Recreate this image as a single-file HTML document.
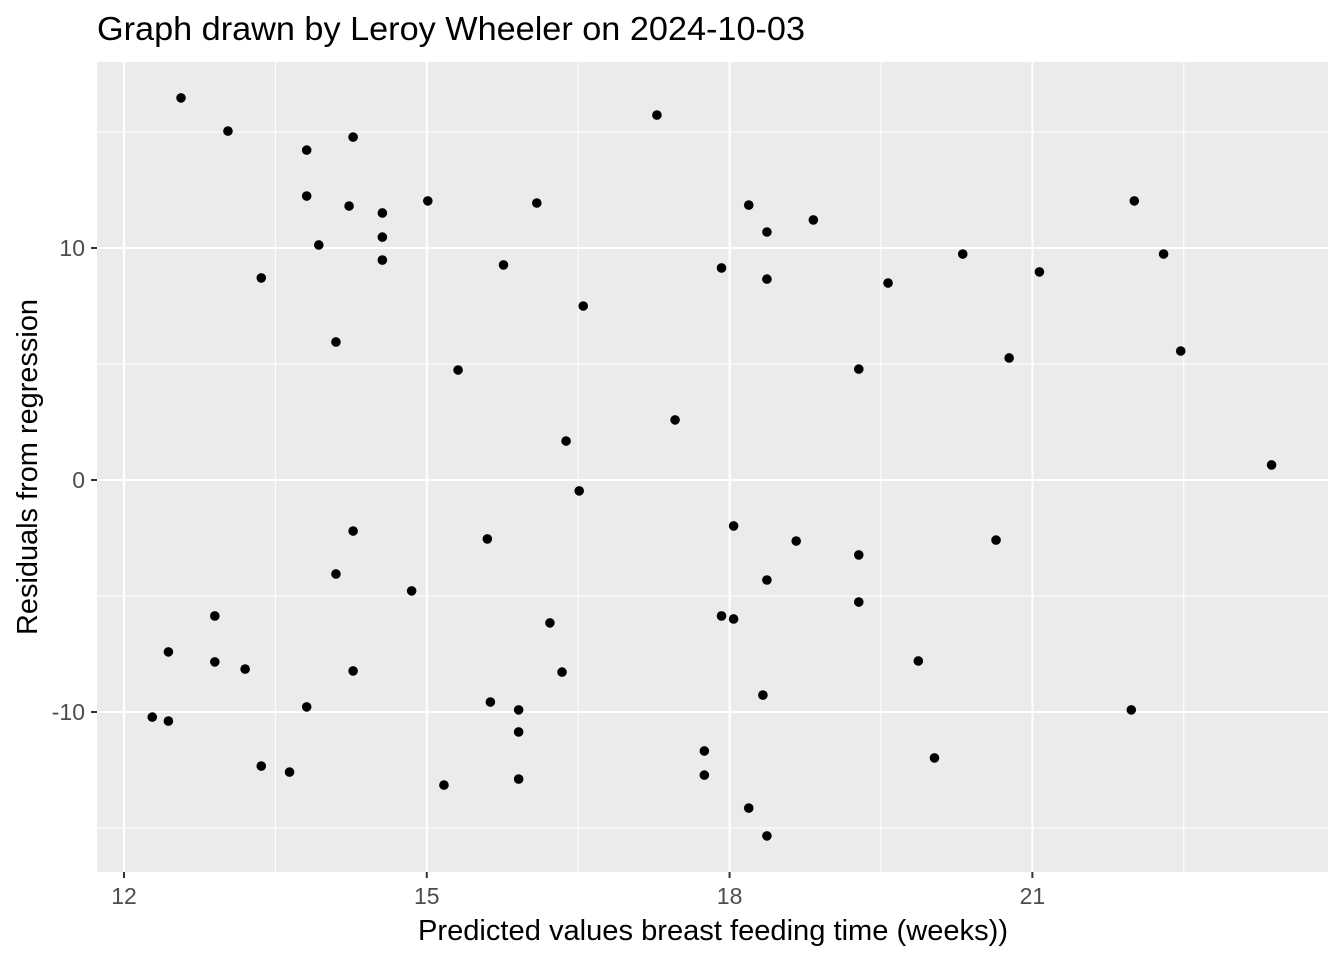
<!DOCTYPE html>
<html><head><meta charset="utf-8"><style>
html,body{margin:0;padding:0;background:#fff;}
svg{display:block;font-family:"Liberation Sans",Arial,sans-serif;}
</style></head><body>
<svg id="chart" width="1344" height="960" xmlns="http://www.w3.org/2000/svg">
<text x="97" y="40" font-size="33" textLength="708" lengthAdjust="spacingAndGlyphs" fill="#000">Graph drawn by Leroy Wheeler on 2024-10-03</text>
<rect x="97" y="62" width="1231" height="810" fill="#ebebeb"/>
<g id="grid"></g>
<g id="points"></g>
<g id="axes"></g>
<text x="713" y="940" font-size="29" textLength="590" lengthAdjust="spacingAndGlyphs" text-anchor="middle" fill="#000">Predicted values breast feeding time (weeks))</text>
<text transform="translate(37,467) rotate(-90)" font-size="29" textLength="336" lengthAdjust="spacingAndGlyphs" text-anchor="middle" fill="#000">Residuals from regression</text>
</svg>
<script>
const xTicks=[12,15,18,21];
const yTicks=[-10,0,10];
const xMinor=[13.5,16.5,19.5,22.5];
const yMinor=[-15,-5,5,15];
const xVals=[12.565,13.03,13.81,14.27,13.81,14.23,14.56,15.01,16.09,17.28,13.93,14.56,14.56,13.36,15.76,16.55,14.10,15.31,16.38,17.46,16.51,18.19,18.37,18.83,17.92,18.37,19.57,20.31,21.07,22.01,22.30,22.47,20.77,19.28,23.37,14.27,14.10,15.60,14.85,12.90,12.44,12.90,13.20,14.27,16.22,16.34,12.28,12.44,13.81,15.63,15.91,15.91,13.36,13.64,15.17,15.91,18.04,18.66,19.28,18.37,19.28,17.92,18.04,20.64,19.87,18.33,17.75,17.75,18.19,18.37,20.03,21.98];
const yVals=[16.47,15.04,14.22,14.78,12.24,11.81,11.51,12.03,11.94,15.73,10.13,10.47,9.48,8.71,9.27,7.50,5.95,4.74,1.68,2.59,-0.47,11.85,10.69,11.21,9.14,8.66,8.49,9.74,8.97,12.03,9.74,5.56,5.26,4.78,0.65,-2.20,-4.05,-2.54,-4.78,-5.86,-7.41,-7.84,-8.15,-8.23,-6.16,-8.28,-10.22,-10.39,-9.78,-9.57,-9.91,-10.86,-12.33,-12.59,-13.15,-12.89,-1.98,-2.63,-3.23,-4.31,-5.26,-5.86,-5.99,-2.59,-7.80,-9.27,-11.68,-12.72,-14.14,-15.34,-11.98,-9.91];
const NS='http://www.w3.org/2000/svg';
const L=97,R=1328,T=62,B=872;
const xs=v=>124+(v-12)*100.93;
const ys=v=>480-v*23.2;
function mk(tag,attrs,parent){const e=document.createElementNS(NS,tag);for(const k in attrs)e.setAttribute(k,attrs[k]);parent.appendChild(e);return e;}
const grid=document.getElementById('grid'),pts=document.getElementById('points'),axes=document.getElementById('axes');
xMinor.forEach(v=>{const e=mk('line',{x1:xs(v),x2:xs(v),y1:T,y2:B,stroke:'#fff','stroke-width':1},grid);

});
yMinor.forEach(v=>{const e=mk('line',{x1:L,x2:R,y1:ys(v),y2:ys(v),stroke:'#fff','stroke-width':1},grid);

});
xTicks.forEach(v=>{const e=mk('line',{x1:xs(v),x2:xs(v),y1:T,y2:B,stroke:'#fff','stroke-width':2},grid);


const t=mk('line',{x1:xs(v),x2:xs(v),y1:B,y2:B+6,stroke:'#333','stroke-width':2},axes);


const l=mk('text',{x:xs(v),y:B+32,'font-size':23,'text-anchor':'middle',fill:'#4d4d4d'},axes);l.textContent=v;

});
yTicks.forEach(v=>{const e=mk('line',{x1:L,x2:R,y1:ys(v),y2:ys(v),stroke:'#fff','stroke-width':2},grid);


const t=mk('line',{x1:L-6,x2:L,y1:ys(v),y2:ys(v),stroke:'#333','stroke-width':2},axes);


const l=mk('text',{x:L-12,y:ys(v)+8,'font-size':23,'text-anchor':'end',fill:'#4d4d4d'},axes);l.textContent=v;

});
xVals.forEach((v,i)=>{const c=mk('circle',{cx:xs(v),cy:ys(yVals[i]),r:4.8,fill:'#000'},pts);

});
</script>
</body></html>
